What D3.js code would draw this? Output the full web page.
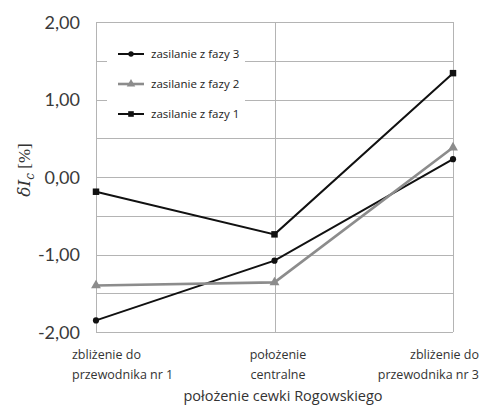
<!DOCTYPE html>
<html>
<head>
<meta charset="utf-8">
<script src="https://cdn.jsdelivr.net/npm/d3@7"></script>
<style>
body { margin: 0; background: #fff; }
.tick text { font-family: Lato, "Open Sans", sans-serif; }
</style>
</head>
<body>
<div id="chart"></div>
<script>
// positions along the coil track
var categories = ["zbliżenie do|przewodnika nr 1", "położenie|centralne", "zbliżenie do|przewodnika nr 3"]
var yTicks = [-2, -1.5, -1, -0.5, 0, 0.5, 1, 1.5, 2]
var yLabels = [-2, -1, 0, 1, 2]

var faza3 = [-1.85, -1.08, 0.23]
var faza2 = [-1.40, -1.36, 0.38]
var faza1 = [-0.19, -0.74, 1.34]

var seriesNames = ["zasilanie z fazy 3", "zasilanie z fazy 2", "zasilanie z fazy 1"]

var W = 480, H = 406
var PLOT_LEFT = 96, PLOT_RIGHT = 453, PLOT_TOP = 22, PLOT_BOTTOM = 332

var svg = d3.select("#chart").append("svg")
	.attr("width", W)
	.attr("height", H)

var x = d3.scalePoint()
	.domain(d3.range(categories.length))
	.range([PLOT_LEFT, PLOT_RIGHT])
	.padding(0)

var y = d3.scaleLinear()
	.domain([-2, 2])
	.range([PLOT_BOTTOM, PLOT_TOP])

var fmt = function(d){ return d.toFixed(2).replace(".", ",") }

// grid
svg.selectAll(".hgrid")
	.data(yTicks)
	.enter()
	.append("line")
	.attr("class", "hgrid")
	.attr("x1", PLOT_LEFT)
	.attr("x2", PLOT_RIGHT)
	.attr("y1", function(d){ return Math.round(y(d)) + 0.5 })
	.attr("y2", function(d){ return Math.round(y(d)) + 0.5 })
	.attr("stroke", "#b4b4b4")
	.attr("stroke-width", 1)

svg.selectAll(".vgrid")
	.data(d3.range(categories.length))
	.enter()
	.append("line")
	.attr("class", "vgrid")
	.attr("x1", function(d){ return Math.round(x(d)) + 0.5 })
	.attr("x2", function(d){ return Math.round(x(d)) + 0.5 })
	.attr("y1", PLOT_TOP)
	.attr("y2", PLOT_BOTTOM)
	.attr("stroke", "#b4b4b4")
	.attr("stroke-width", 1)

// y axis labels
var yAxis = d3.axisLeft(y)
	.tickValues(yLabels)
	.tickSize(0)
	.tickPadding(0)
	.tickFormat(fmt)

svg.append("g")
	.attr("transform", "translate(80,0)")
	.call(yAxis)
	.call(function(g){ g.select(".domain").remove() })
	.selectAll("text")
	.attr("font-size", 18)
	.attr("fill", "#3a3a3a")
	.attr("dy", "0.36em")

// y title
var yTitle = svg.append("text")
	.attr("transform", "translate(30,170) rotate(-90)")
	.attr("text-anchor", "middle")
	.attr("font-family", "'DejaVu Serif', serif")
	.attr("font-size", 17)
	.attr("fill", "#333")
yTitle.append("tspan").attr("font-style", "italic").text("δI")
yTitle.append("tspan").attr("font-style", "italic").attr("font-size", 12).attr("dy", 4).text("c")
yTitle.append("tspan").attr("dy", -4).attr("font-family", "'Liberation Serif', serif").text(" [%]")

// category labels
var anchors = ["start", "middle", "end"]
var labelX = [72, 278, 479]
var cat = svg.selectAll(".catLabel")
	.data(categories)
	.enter()
	.append("text")
	.attr("class", "catLabel")
	.attr("font-family", "'Open Sans', sans-serif")
	.attr("font-size", 12.5)
	.attr("fill", "#333")
	.attr("text-anchor", function(d,i){ return anchors[i] })

cat.each(function(d,i){
	var parts = d.split("|")
	var t = d3.select(this)
	parts.forEach(function(p, j){
		t.append("tspan")
			.attr("x", labelX[i])
			.attr("y", 359 + j * 20)
			.text(p)
	})
})

svg.append("text")
	.attr("x", 283)
	.attr("y", 401)
	.attr("text-anchor", "middle")
	.attr("font-family", "'Open Sans', sans-serif")
	.attr("font-size", 14.5)
	.attr("fill", "#333")
	.text("położenie cewki Rogowskiego")

// series
var series = [
	{name: seriesNames[0], values: faza3, color: "#111", width: 2, marker: d3.symbolCircle, size: 30},
	{name: seriesNames[1], values: faza2, color: "#8c8c8c", width: 2.6, marker: d3.symbolTriangle, size: 42},
	{name: seriesNames[2], values: faza1, color: "#111", width: 2, marker: d3.symbolSquare, size: 42}
]

var line = d3.line()
	.x(function(d,i){ return x(i) })
	.y(function(d){ return y(d) })

var sg = svg.selectAll(".series")
	.data(series)
	.enter()
	.append("g")
	.attr("class", "series")

sg.append("path")
	.attr("d", function(d){ return line(d.values) })
	.attr("fill", "none")
	.attr("stroke", function(d){ return d.color })
	.attr("stroke-width", function(d){ return d.width })

sg.each(function(s){
	d3.select(this).selectAll(".pt")
		.data(s.values)
		.enter()
		.append("path")
		.attr("class", "pt")
		.attr("d", d3.symbol().type(s.marker).size(s.size))
		.attr("transform", function(d,i){ return "translate(" + x(i) + "," + y(d) + ")" })
		.attr("fill", s.color)
})

// legend
var legend = svg.append("g")

legend.append("rect")
	.attr("x", 107)
	.attr("y", PLOT_TOP + 2)
	.attr("width", 138)
	.attr("height", 112)
	.attr("fill", "#fff")

var li = legend.selectAll(".legendItem")
	.data(series)
	.enter()
	.append("g")
	.attr("class", "legendItem")
	.attr("transform", function(d,i){ return "translate(0," + (54 + i * 30) + ")" })

li.append("line")
	.attr("x1", 118)
	.attr("x2", 144)
	.attr("stroke", function(d){ return d.color })
	.attr("stroke-width", function(d){ return d.width })

li.append("path")
	.attr("d", function(d){ return d3.symbol().type(d.marker).size(d.size * 0.75)() })
	.attr("transform", "translate(131,0)")
	.attr("fill", function(d){ return d.color })

li.append("text")
	.attr("x", 151)
	.attr("dy", "0.35em")
	.attr("font-family", "'Open Sans', sans-serif")
	.attr("font-size", 11.5)
	.attr("fill", "#222")
	.text(function(d){ return d.name })
</script>
</body>
</html>
